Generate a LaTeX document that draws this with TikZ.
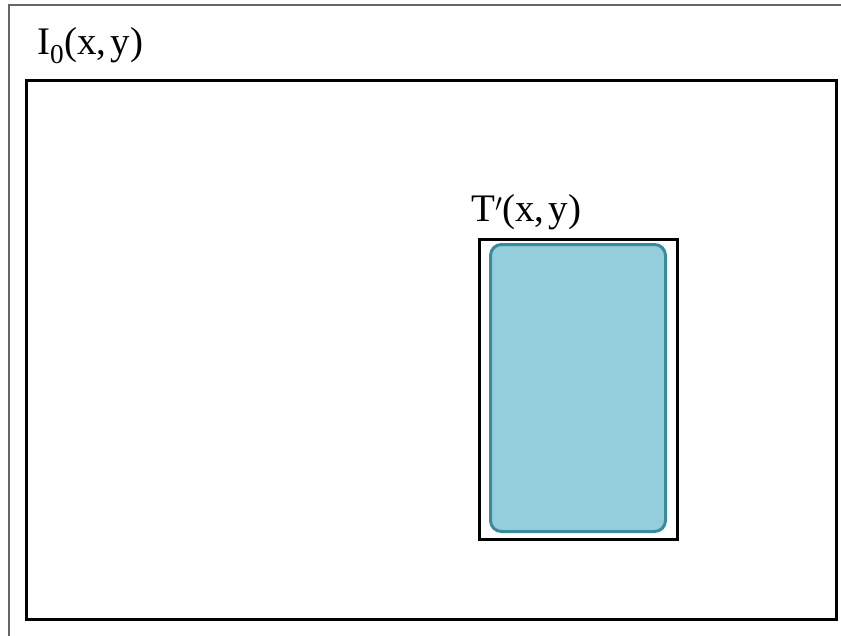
\documentclass[tikz,border=0pt]{standalone}
\usepackage{fontspec}
\setmainfont{Liberation Serif}
\definecolor{blobedge}{RGB}{58,138,156}
\definecolor{blobfill}{RGB}{148,205,219}
\tikzset{
  frame/.style={draw=black!60, line width=1.2pt},
  outerbox/.style={draw=black, line width=3pt},
  tbox/.style={draw=black, line width=3pt},
  blob/.style={draw=blobedge, fill=blobfill, line width=3pt, rounded corners=11pt},
  lbl/.style={inner sep=0pt, anchor=base west, font=\fontsize{39}{44}\selectfont}
}
\begin{document}
\begin{tikzpicture}[x=1pt,y=-1pt]
\useasboundingbox (0,0) rectangle (841,635);
\fill[white] (0,0) rectangle (841,635);
\draw[frame] (9,650) -- (9,5) -- (850,5);
\node[outerbox, minimum width=810pt, minimum height=539pt, anchor=north west, inner sep=0pt] (img) at (25,79) {};
\node[lbl] (ilbl) at (37,54) {I$_{\mathrm{0}}$(x,$\,$y)};
\node[tbox, minimum width=198pt, minimum height=300pt, anchor=north west, inner sep=0pt] (t) at (477.5,237.5) {};
\node[blob, minimum width=175pt, minimum height=287pt, anchor=north west, inner sep=0pt] (b) at (489,243) {};
\node[lbl] (tlbl) at (471,221) {T$'$(x,$\,$y)};
\end{tikzpicture}
\end{document}
